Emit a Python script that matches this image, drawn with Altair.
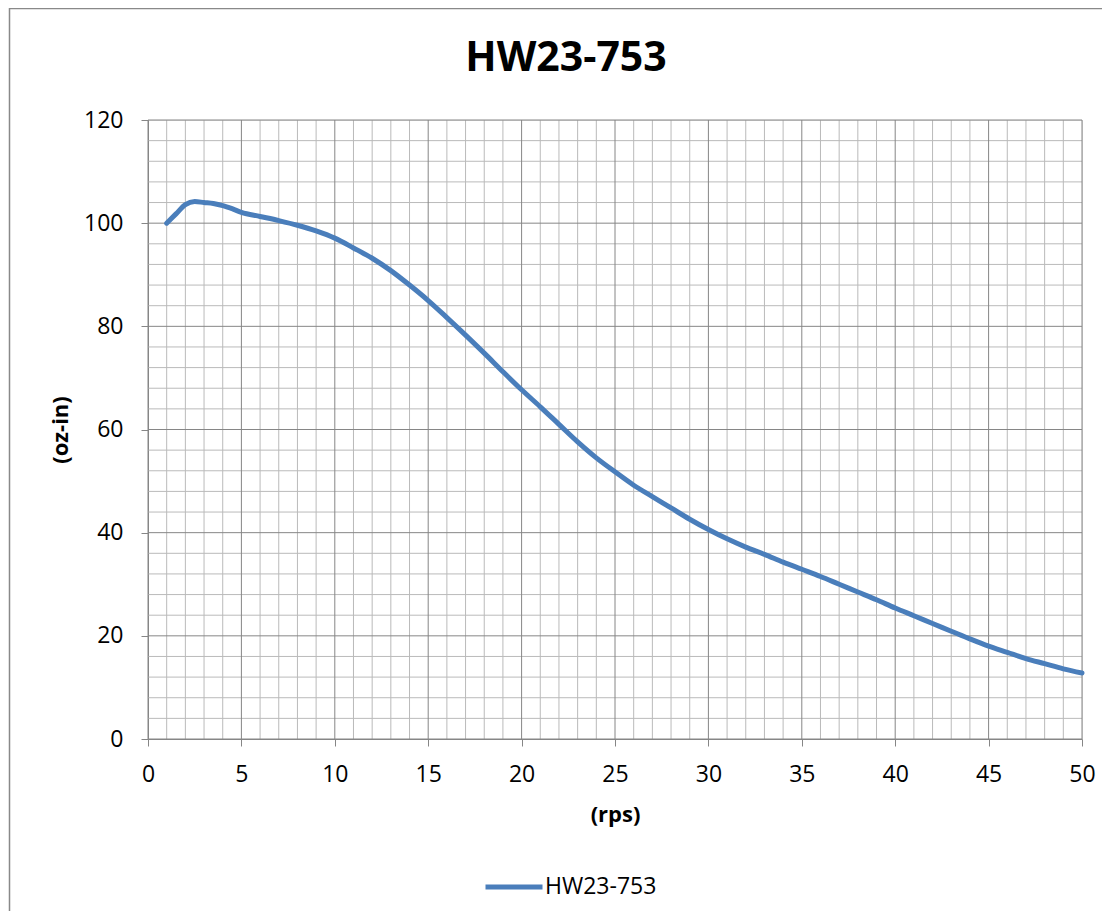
import altair as alt
import pandas as pd

# ---- data ----
rps = [1, 1.5, 2, 2.5, 3, 3.5, 4, 4.5, 5, 6, 7, 8, 9, 10, 11, 12, 13, 14, 15, 16, 17, 18, 19, 20,
       21, 22, 23, 24, 25, 26, 27, 28, 29, 30, 31, 32, 33, 34, 35, 36, 37, 38, 39, 40,
       41, 42, 43, 44, 45, 46, 47, 48, 49, 50]
torque = [100.0, 101.8, 103.6, 104.2, 104.0, 103.8, 103.4, 102.8, 102.1, 101.3, 100.5, 99.6, 98.5, 97.1,
          95.2, 93.2, 90.8, 88.0, 85.0, 81.7, 78.3, 74.8, 71.2, 67.7,
          64.4, 61.0, 57.6, 54.5, 51.8, 49.2, 47.0, 44.8, 42.6, 40.6, 38.8, 37.2, 35.8, 34.3, 32.9,
          31.5, 30.0, 28.5, 27.0, 25.4, 23.9, 22.4, 20.9, 19.4, 18.0, 16.8, 15.6, 14.6, 13.6, 12.8]
series_name = "HW23-753"

x_major = [0, 5, 10, 15, 20, 25, 30, 35, 40, 45, 50]
x_minor = [v for v in range(0, 51) if v % 5 != 0]
y_major = [0, 20, 40, 60, 80, 100, 120]
y_minor = [v for v in range(0, 121, 4) if v % 20 != 0]

FONT = "Open Sans"
LINE_COLOR = "#4A7EBB"
MAJOR = "#868686"
MINOR = "#bababa"
W, H = 934, 619

x_scale = alt.Scale(domain=[0, 50], nice=False, zero=False)
y_scale = alt.Scale(domain=[0, 120], nice=False)

x_axis = alt.Axis(values=x_major, title="(rps)", grid=False, tickSize=7, tickColor=MAJOR,
                  domainColor=MAJOR, labelFont=FONT, labelFontSize=23, labelColor="#000",
                  labelPadding=17, titleFont=FONT, titleFontSize=22, titleFontWeight="bold",
                  titleColor="#000", titleX=W / 2, titleY=75, titleBaseline="middle",
                  titleAlign="center", labelFlush=False)
y_axis = alt.Axis(values=y_major, title="(oz-in)", grid=False, tickSize=7, tickColor=MAJOR,
                  domainColor=MAJOR, labelFont=FONT, labelFontSize=23, labelColor="#000",
                  labelPadding=18, titleFont=FONT, titleFontSize=22, titleFontWeight="bold",
                  titleColor="#000", titleX=-88, titleY=H / 2, titleAngle=270,
                  titleBaseline="middle", titleAlign="center", labelFlush=False)

line_df = pd.DataFrame({"rps": rps, "torque": torque, "series": series_name})

minor_x = alt.Chart(pd.DataFrame({"g": x_minor})).mark_rule(color=MINOR, strokeWidth=1).encode(
    x=alt.X("g:Q", scale=x_scale, axis=x_axis))
minor_y = alt.Chart(pd.DataFrame({"g": y_minor})).mark_rule(color=MINOR, strokeWidth=1).encode(
    y=alt.Y("g:Q", scale=y_scale, axis=y_axis))
major_x = alt.Chart(pd.DataFrame({"g": x_major})).mark_rule(color=MAJOR, strokeWidth=1).encode(
    x=alt.X("g:Q", scale=x_scale, axis=x_axis))
major_y = alt.Chart(pd.DataFrame({"g": y_major})).mark_rule(color=MAJOR, strokeWidth=1).encode(
    y=alt.Y("g:Q", scale=y_scale, axis=y_axis))

line = alt.Chart(line_df).mark_line(strokeWidth=5, interpolate="monotone", strokeCap="round").encode(
    x=alt.X("rps:Q", scale=x_scale, axis=x_axis),
    y=alt.Y("torque:Q", scale=y_scale, axis=y_axis),
    color=alt.Color("series:N", scale=alt.Scale(range=[LINE_COLOR]),
                    legend=alt.Legend(title=None, orient="none", legendX=335, legendY=736,
                                      direction="horizontal", symbolType="stroke",
                                      symbolSize=3249, symbolStrokeWidth=5, padding=0,
                                      labelFont=FONT, labelFontSize=23, labelColor="#000",
                                      labelOffset=0)),
)

border = alt.Chart(pd.DataFrame({"a": [0]})).mark_rect(filled=False, stroke="#898989", strokeWidth=1.5).encode(
    x=alt.value(-138.5), x2=alt.value(1200), y=alt.value(-111.5), y2=alt.value(1000))

chart = alt.layer(border, minor_x, minor_y, major_x, major_y, line).properties(
    width=W, height=H,
    title=alt.TitleParams(series_name, font=FONT, fontSize=41, fontWeight="bold", color="#000",
                          anchor="middle", frame="group", dx=-49, offset=-72),
    autosize=alt.AutoSizeParams(type="none"),
    padding={"left": 140, "top": 112, "right": 20, "bottom": 172},
).configure_view(stroke=None).configure(background="white")

chart.save("out.html", embed_options={"renderer": "svg", "actions": False})
